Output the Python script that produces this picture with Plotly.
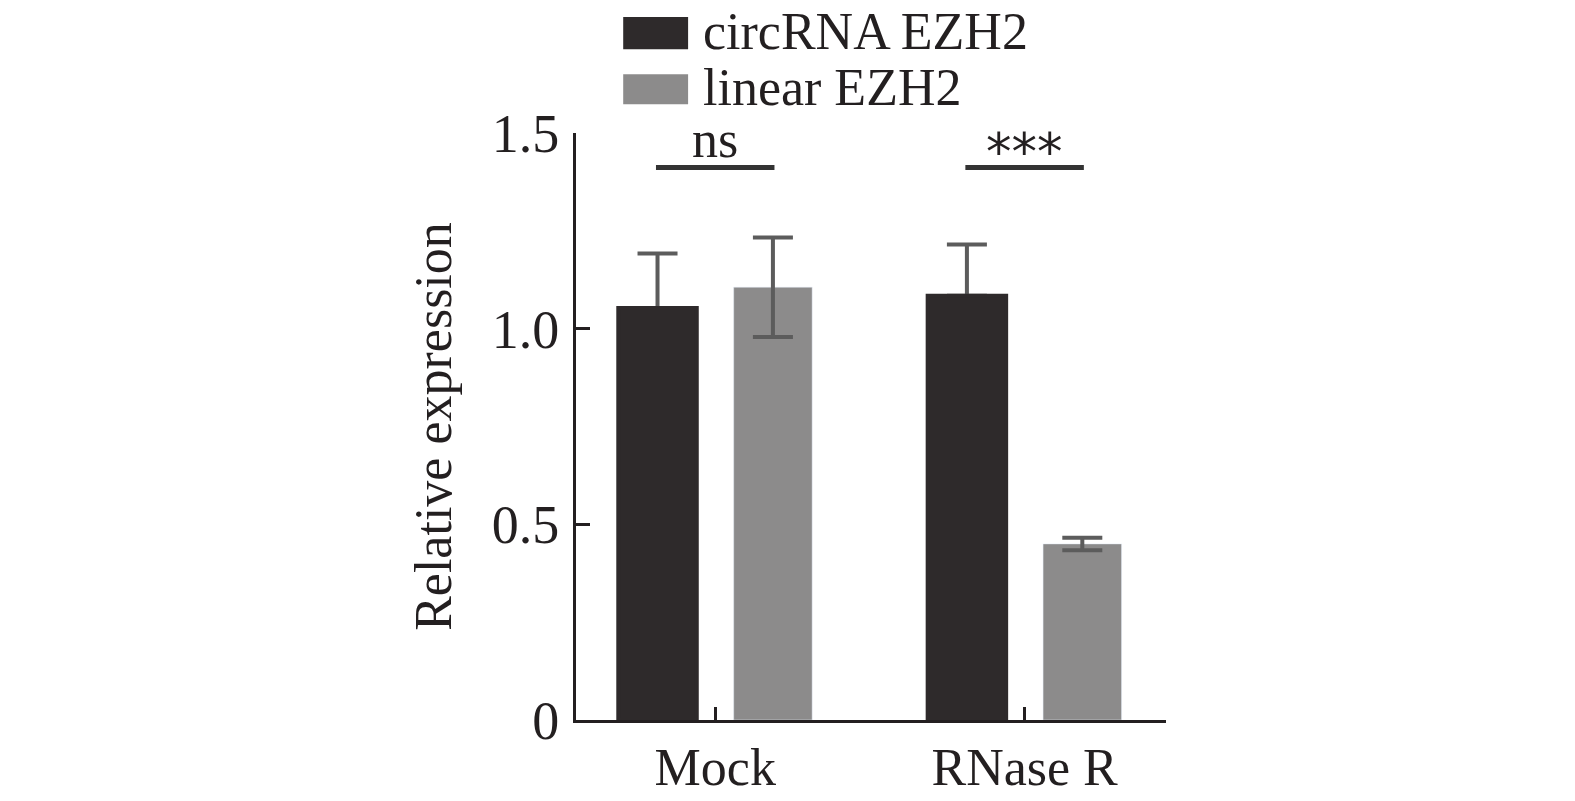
import plotly.graph_objects as go

# data
groups = ["Mock", "RNase R"]
circ_vals = [1.053, 1.084]
circ_err = [0.139, 0.131]
linear_vals = [1.106, 0.450]
linear_err = [0.127, 0.016]
sig_labels = ["ns", "***"]
sig_y = [1.412, 1.412]
y_tickvals = [0, 0.5, 1.0, 1.5]
y_ticktext = ["0", "0.5", "1.0", "1.5"]

FONT = "Liberation Serif, Times New Roman, serif"
INK = "#231f20"
DARK = "#2e2a2b"
GREY = "#8c8b8b"
ERR = "#5c5c5c"
BARGAP = 0.254

fig = go.Figure()

# circRNA bars with upper error bars only
fig.add_trace(go.Bar(
    x=groups, y=circ_vals, offsetgroup="circ", marker_color=DARK,
    error_y=dict(type="data", array=circ_err, arrayminus=[0, 0], symmetric=False,
                 color=ERR, thickness=4, width=20),
    showlegend=False,
))
# same bars again on top, so the lower cap is hidden
fig.add_trace(go.Bar(
    x=groups, y=circ_vals, offsetgroup="circ", marker_color=DARK,
    marker_line=dict(color=DARK, width=4), showlegend=False,
))
fig.add_trace(go.Bar(
    x=groups, y=linear_vals, offsetgroup="linear", marker_color=GREY,
    error_y=dict(type="data", array=linear_err, color=ERR, thickness=4, width=20),
    showlegend=False,
))

# significance brackets
half = (1 - BARGAP) / 4
for i, (lab, yv) in enumerate(zip(sig_labels, sig_y)):
    fig.add_shape(type="line", xref="x", yref="y", x0=i - half - 0.005, x1=i + half + 0.005,
                  y0=yv, y1=yv, line=dict(color="#333333", width=5))
    if lab == "ns":
        fig.add_annotation(x=i, y=yv, xref="x", yref="y", text=lab, showarrow=False,
                           yanchor="bottom", yshift=-3,
                           font=dict(family=FONT, size=52, color=INK))
    else:
        fig.add_annotation(x=i, y=yv, xref="x", yref="y", text=lab, showarrow=False,
                           yanchor="bottom", yshift=-17,
                           font=dict(family="DejaVu Sans, sans-serif", size=51, color=INK))

# legend drawn by hand (large swatches)
legend_items = [("circRNA EZH2", DARK, 1.1975, 1.1428), ("linear EZH2", GREY, 1.1001, 1.0489)]
for name, col, ytop, ybot in legend_items:
    fig.add_shape(type="rect", xref="paper", yref="paper", x0=0.08, x1=0.19,
                  y0=ybot, y1=ytop, fillcolor=col, line_width=0)
    fig.add_annotation(xref="paper", yref="paper", x=0.213, y=(ytop + ybot) / 2 + 0.003,
                       xanchor="left", yanchor="middle", text=name, showarrow=False,
                       borderpad=0, font=dict(family=FONT, size=52, color=INK))

# the page body adds an 8px offset, so the figure is 8px smaller
fig.update_layout(
    width=1567, height=793,
    margin=dict(l=568, r=409, t=125, b=81),
    plot_bgcolor="white", paper_bgcolor="white",
    barmode="group", bargap=BARGAP, bargroupgap=0.32,
    font=dict(family=FONT, size=52, color=INK),
    showlegend=False,
)
fig.update_xaxes(
    range=[-0.45, 1.457], showline=True, linewidth=3, linecolor=INK,
    ticks="inside", ticklen=13, tickwidth=3, tickcolor=INK,
    showgrid=False, zeroline=False, ticklabelstandoff=0, automargin=False,
    tickfont=dict(family=FONT, size=52, color=INK),
)
fig.update_yaxes(
    range=[0, 1.5], tickvals=y_tickvals, ticktext=y_ticktext,
    showline=True, linewidth=3, linecolor=INK,
    ticks="inside", ticklen=14, tickwidth=3, tickcolor=INK,
    showgrid=False, zeroline=False, ticklabelstandoff=3, automargin=False,
    tickfont=dict(family=FONT, size=54, color=INK),
    title=dict(text="Relative expression", standoff=24,
               font=dict(family=FONT, size=52, color=INK)),
)

fig.write_html("out.html")
